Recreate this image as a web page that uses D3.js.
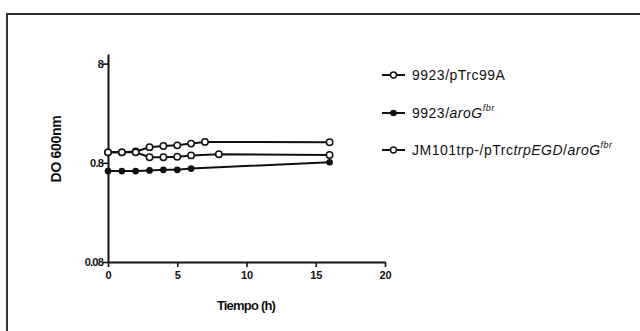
<!DOCTYPE html>
<html lang='es'>
<head>
  <meta charset="utf-8"/>
  <title>Crecimiento DO 600nm</title>
  <script src="https://d3js.org/d3.v7.min.js"></script>
  <style>
    body { margin: 0; background: #fff; }
    svg { display: block; font-family: "Liberation Sans", Arial, sans-serif; }
  </style>
</head>
<body>
  <div id='chart'></div>
  <script>
    // valores
    var tiempos1 = [0, 1, 2, 3, 4, 5, 6, 7, 16];
    var pTrc99A = [1.02, 1.02, 1.04, 1.15, 1.18, 1.20, 1.25, 1.30, 1.29];

    var tiempos2 = [0, 1, 2, 3, 4, 5, 6, 16];
    var aroGfbr = [0.66, 0.66, 0.66, 0.67, 0.68, 0.68, 0.70, 0.81];

    var tiempos3 = [0, 1, 2, 3, 4, 5, 6, 8, 16];
    var jm101 = [1.02, 1.02, 1.02, 0.91, 0.91, 0.92, 0.95, 0.975, 0.96];

    var xTicks = [0, 5, 10, 15, 20];
    var yTicks = [0.08, 0.8, 8];
    var yTickLabels = ["0.08", "0.8", "8"];

    var width = 640, height = 331;

    var svg = d3.select('#chart').append('svg')
      .attr('width', width)
      .attr('height', height);

    // marco
    svg.append('rect')
      .attr('x', 7).attr('y', 14)
      .attr('width', 640).attr('height', 340)
      .attr('fill', 'none')
      .attr('stroke', '#333')
      .attr('stroke-width', 2);

    var x = d3.scaleLinear().domain([0, 20]).range([108, 385]);
    var y = d3.scaleLog().domain([0.08, 10]).range([262, 54]);

    var xAxis = svg.append('g')
      .attr('transform', 'translate(0,262)')
      .call(d3.axisBottom(x).tickValues(xTicks).tickSize(5).tickSizeOuter(0));
    var yAxis = svg.append('g')
      .attr('transform', 'translate(108,0)')
      .call(d3.axisLeft(y).tickValues(yTicks).tickSize(5).tickSizeOuter(0)
        .tickFormat(function(d, i){ return yTickLabels[i]; }));

    [xAxis, yAxis].forEach(function(a){
      a.select('.domain').attr('stroke', '#111').attr('stroke-width', 2);
      a.selectAll('.tick line').attr('stroke', '#111').attr('stroke-width', 1.6);
      a.selectAll('.tick text')
        .attr('fill', '#111')
        .attr('font-size', 11)
        .attr('font-weight', 'bold')
        .attr('font-family', '"Liberation Sans", Arial, sans-serif');
    });
    yAxis.selectAll('.tick text').attr('x', -5).attr('letter-spacing', -0.8);
    xAxis.selectAll('.tick text').attr('y', 9);

    // titulos de ejes
    svg.append('text')
      .attr('x', 246).attr('y', 310)
      .attr('text-anchor', 'middle')
      .attr('font-size', 13).attr('font-weight', 'bold')
      .attr('letter-spacing', -0.8)
      .attr('fill', '#111')
      .text('Tiempo (h)');

    svg.append('text')
      .attr('transform', 'translate(61,149) rotate(-90)')
      .attr('text-anchor', 'middle')
      .attr('font-size', 14).attr('font-weight', 'bold')
      .attr('letter-spacing', -0.3)
      .attr('fill', '#111')
      .text('DO 600nm');

    var line = d3.line()
      .x(function(d){ return x(d[0]); })
      .y(function(d){ return y(d[1]); });

    var series = [
      { t: tiempos1, v: pTrc99A, filled: false },
      { t: tiempos3, v: jm101, filled: false },
      { t: tiempos2, v: aroGfbr, filled: true }
    ];

    series.forEach(function(s){
      var pts = s.t.map(function(t, i){ return [t, s.v[i]]; });
      svg.append('path')
        .datum(pts)
        .attr('d', line)
        .attr('fill', 'none')
        .attr('stroke', '#111')
        .attr('stroke-width', 2);
      svg.selectAll(null)
        .data(pts)
        .enter()
        .append('circle')
        .attr('cx', function(d){ return x(d[0]); })
        .attr('cy', function(d){ return y(d[1]); })
        .attr('r', s.filled ? 2.6 : 3.2)
        .attr('fill', s.filled ? '#111' : '#fff')
        .attr('stroke', '#111')
        .attr('stroke-width', 1.5);
    });

    // leyenda
    var legend = [
      { y: 75, filled: false, parts: [['9923/pTrc99A', 'normal', false]] },
      { y: 113, filled: true, parts: [['9923/', 'normal', false], ['aroG', 'italic', false], ['fbr', 'italic', true]] },
      { y: 150, filled: false, parts: [['JM101trp-/pTrc', 'normal', false], ['trpEGD', 'italic', false], ['/', 'normal', false], ['aroG', 'italic', false], ['fbr', 'italic', true]] }
    ];

    legend.forEach(function(l){
      var g = svg.append('g');
      g.append('line')
        .attr('x1', 382).attr('x2', 405)
        .attr('y1', l.y).attr('y2', l.y)
        .attr('stroke', '#111').attr('stroke-width', 2);
      g.append('circle')
        .attr('cx', 393.5).attr('cy', l.y)
        .attr('r', l.filled ? 2.6 : 3)
        .attr('fill', l.filled ? '#111' : '#fff')
        .attr('stroke', '#111').attr('stroke-width', 1.4);
      var t = g.append('text')
        .attr('x', 412).attr('y', l.y + 5)
        .attr('font-size', 14)
        .attr('letter-spacing', 0.5)
        .attr('fill', '#111');
      l.parts.forEach(function(p){
        var sp = t.append('tspan')
          .attr('font-style', p[1])
          .text(p[0]);
        if (p[2]) {
          sp.attr('font-size', 9).attr('dy', -7);
        }
      });
    });
  </script>
</body>
</html>
